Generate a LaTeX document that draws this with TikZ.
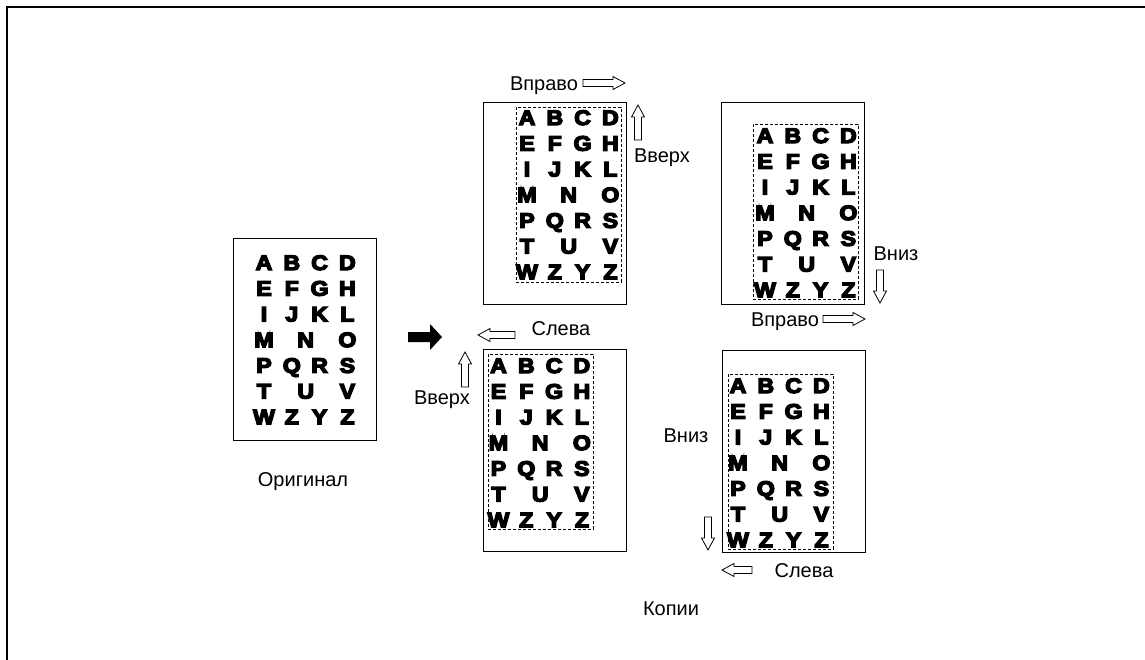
\documentclass[tikz,border=0pt]{standalone}
\usepackage{fontspec}
\setmainfont{Liberation Sans}
\newcommand\heavyletter[1]{\scalebox{1.1}[1]{\special{pdf:literal direct 2 Tr 1.3 w}#1\special{pdf:literal direct 0 Tr}}}
\newcommand\lettergrid[3]{%
  \foreach \ch/\c/\r [count=\i] in {A/0/0,B/1/0,C/2/0,D/3/0,E/0/1,F/1/1,G/2/1,H/3/1,I/0/2,J/1/2,K/2/2,L/3/2,M/0/3,N/1.5/3,O/3/3,P/0/4,Q/1/4,R/2/4,S/3/4,T/0/5,U/1.5/5,V/3/5,W/0/6,Z/1/6,Y/2/6,Z/3/6}{%
    \node[lettr] (#1\i) at ({#2+\c*27.8},{#3+\r*25.7}) {\heavyletter{\ch}};
  }%
}
\begin{document}
\begin{tikzpicture}[x=1pt,y=-1pt,
  pagebox/.style={draw, line width=0.9pt, minimum width=143pt, minimum height=202pt, inner sep=0pt, anchor=north west},
  dashbox/.style={draw, line width=0.8pt, dash pattern=on 3pt off 2pt, minimum width=105pt, minimum height=175pt, inner sep=0pt, anchor=north west},
  lettr/.style={inner sep=0pt, anchor=base, font=\bfseries\fontsize{21}{21}\selectfont},
  lbl/.style={inner sep=0pt, anchor=base, font=\fontsize{20}{24}\selectfont},
  pics/harr/.style={code={\draw[line width=0.8pt, fill=white] (0,-3.5) -- ({#1-12},-3.5) -- ({#1-12},-6.5) -- (#1,0) -- ({#1-12},6.5) -- ({#1-12},3.5) -- (0,3.5) -- cycle;}}
]
\useasboundingbox (0,0) rectangle (1145,659);
\fill[white] (0,0) rectangle (1145,659);
% frame
\draw[line width=2pt] (7,660) -- (7,7) -- (1146,7);

% pages
\node[pagebox] (orig) at (233,238) {};
\node[pagebox] (tl) at (483,102) {};
\node[pagebox] (tr) at (721,102) {};
\node[pagebox] (bl) at (483,349) {};
\node[pagebox] (br) at (722,350) {};

% dashed image areas
\node[dashbox] (tld) at (516,107) {};
\node[dashbox] (trd) at (753,124) {};
\node[dashbox] (bld) at (488,354) {};
\node[dashbox] (brd) at (728,374) {};

% letters
\lettergrid{o}{264}{270}
\lettergrid{a}{527}{125}
\lettergrid{b}{765}{143}
\lettergrid{c}{498.5}{373}
\lettergrid{d}{738}{393}

% black arrow
\fill (408,332) -- (430,332) -- (430,324) -- (442,337) -- (430,350) -- (430,342) -- (408,342) -- cycle;

% hollow arrows
\pic at (583,83) {harr=42};
\pic[rotate=90] at (638,140) {harr=35};
\pic[rotate=-90] at (880,270) {harr=33};
\pic at (823,319) {harr=42};
\pic[rotate=180] at (515,335) {harr=37};
\pic[rotate=90] at (465,387) {harr=35};
\pic[rotate=-90] at (708,517) {harr=33};
\pic[rotate=180] at (752,570) {harr=30};

% labels
\node[lbl] (l1) at (544,90) {Вправо};
\node[lbl] (l2) at (662,162) {Вверх};
\node[lbl] (l3) at (896,260) {Вниз};
\node[lbl] (l4) at (785,326) {Вправо};
\node[lbl] (l5) at (561,335) {Слева};
\node[lbl] (l6) at (442,404) {Вверх};
\node[lbl] (l7) at (686,442) {Вниз};
\node[lbl] (l8) at (804,577) {Слева};
\node[lbl] (l9) at (303,486) {Оригинал};
\node[lbl] (l10) at (671,615) {Копии};
\end{tikzpicture}
\end{document}
